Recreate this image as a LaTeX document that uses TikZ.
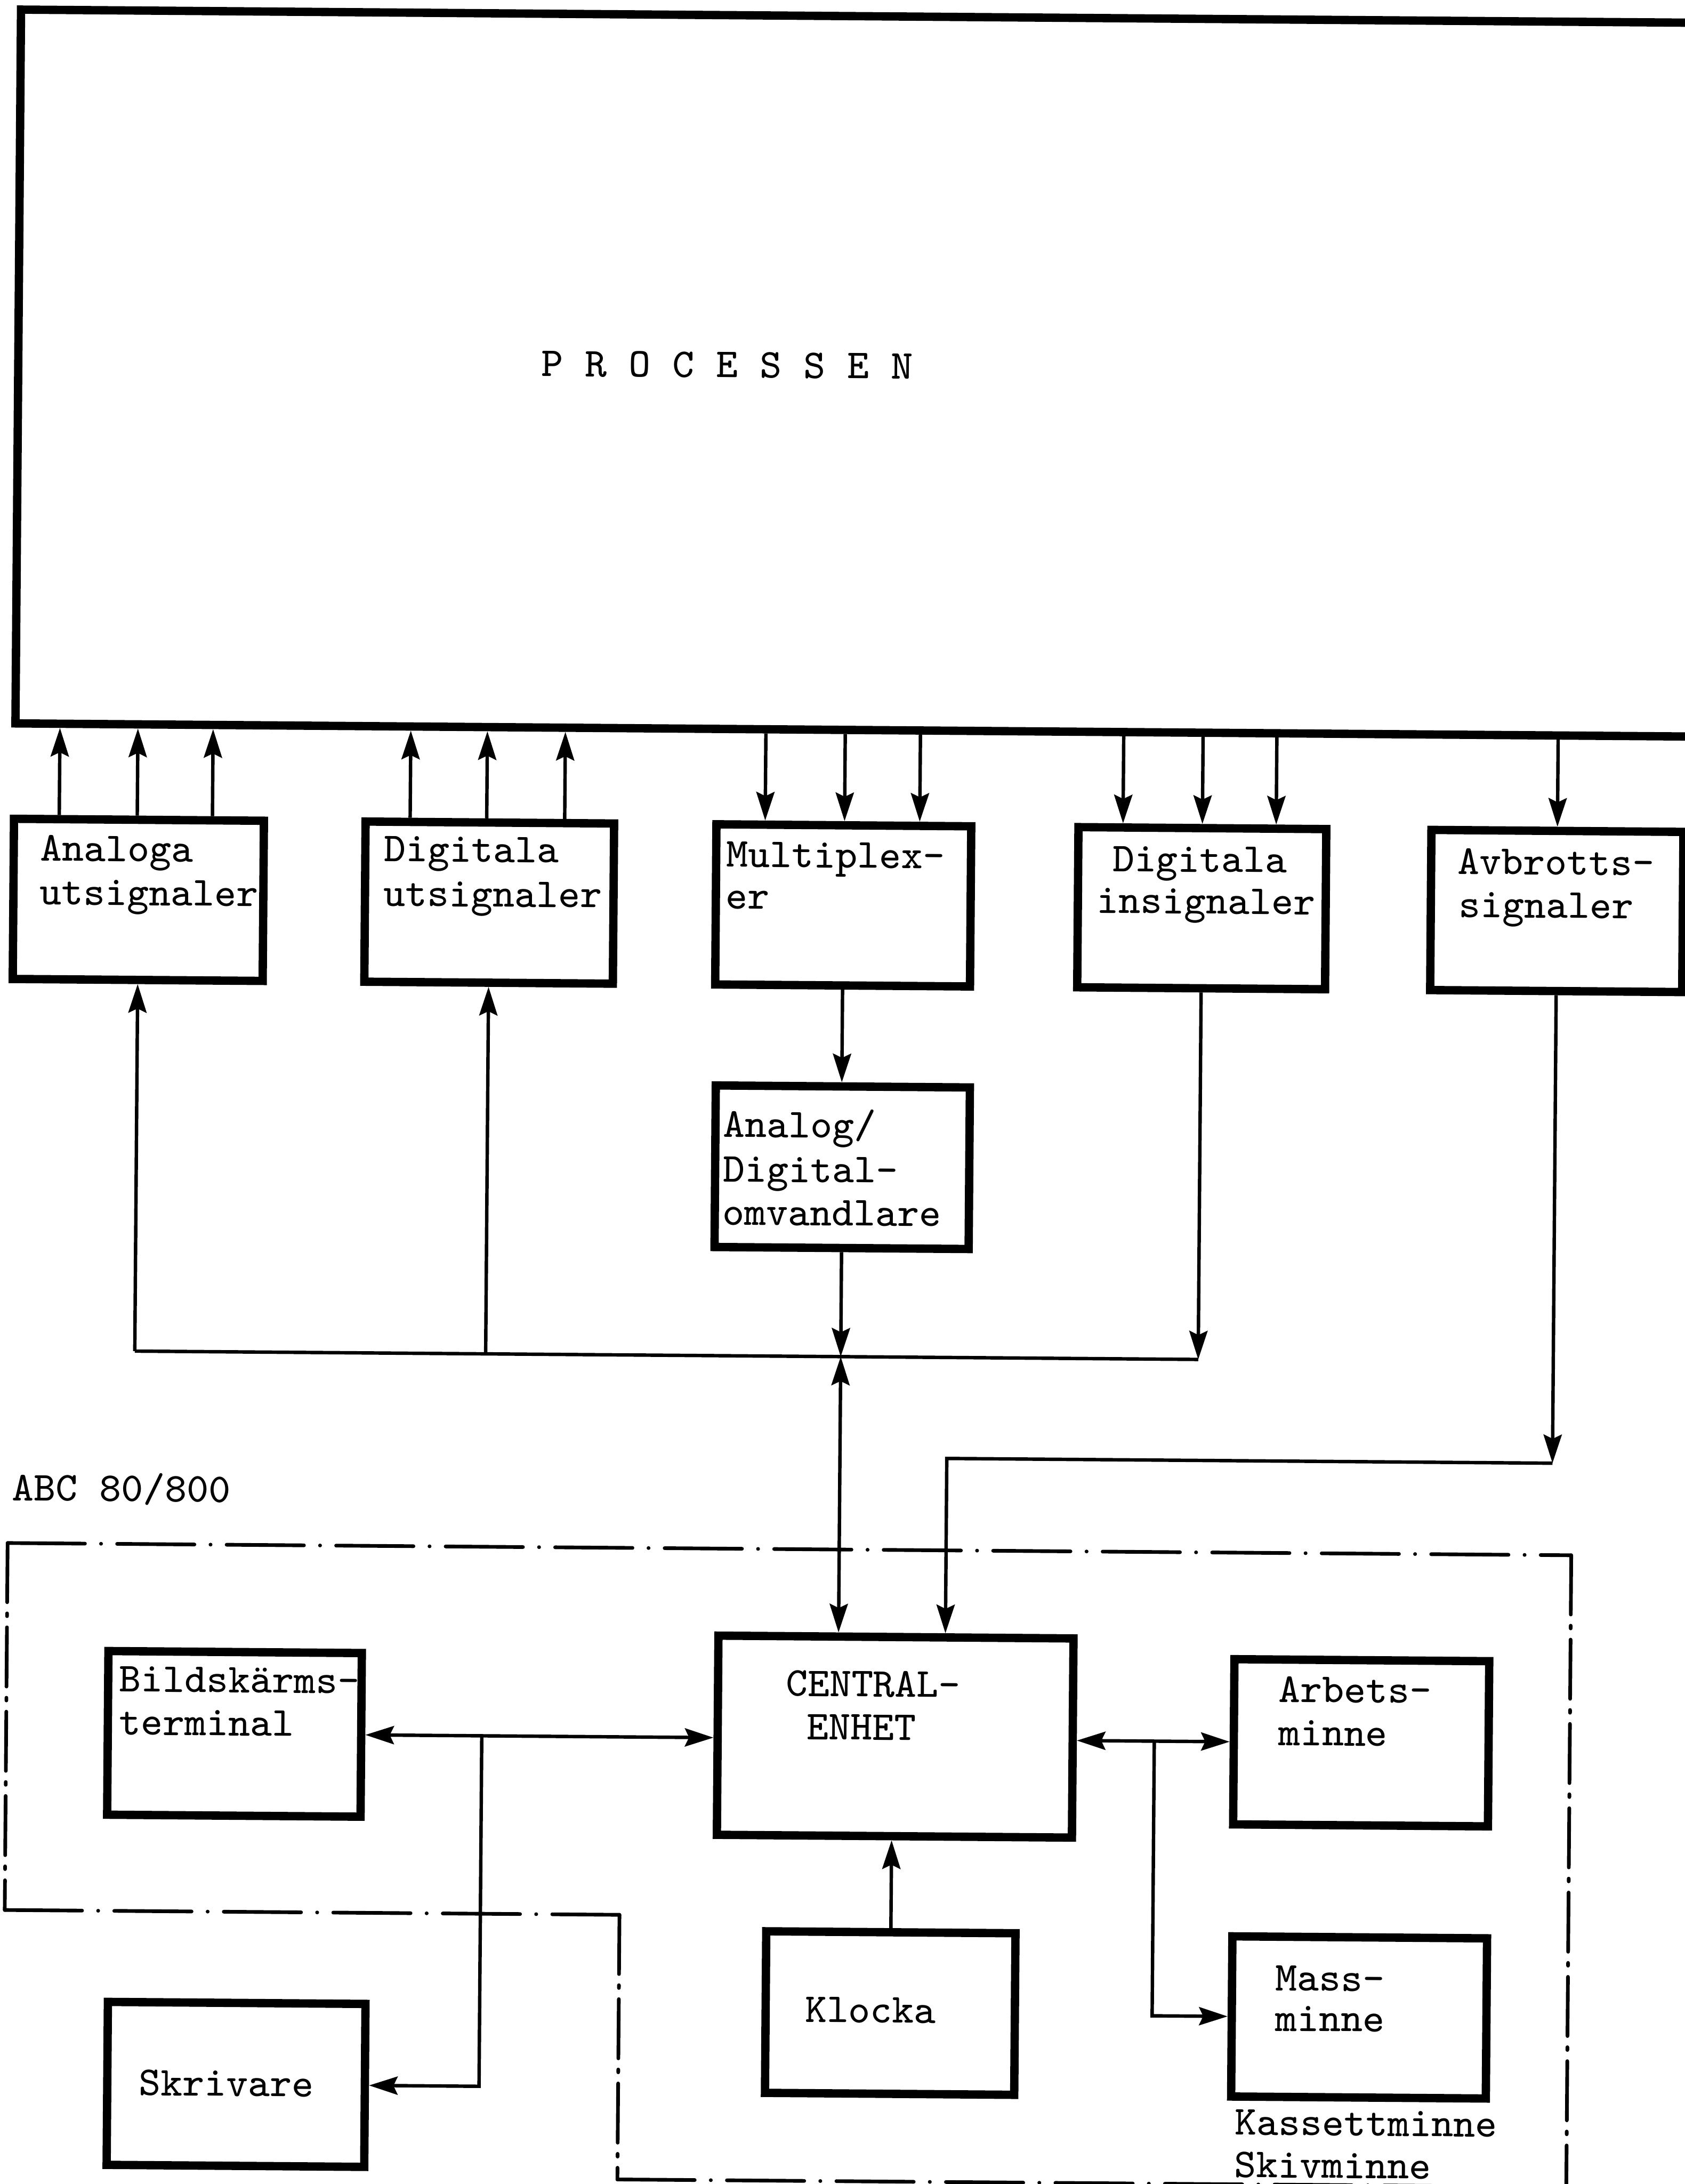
\documentclass[tikz,border=0pt]{standalone}
\usetikzlibrary{arrows.meta}
\newcommand\twfont{\ttfamily\fontsize{8.4pt}{9.1pt}\selectfont}
\newcommand\mkbox[5]{\node[blk, minimum width={(#4-(#2))*0.01cm}, minimum height={(#5-(#3))*0.01cm}] (#1) at ({(#2+#4)/2},{(#3+#5)/2}) {};}
\tikzset{
  blk/.style={draw, line width=1.7pt, rectangle, inner sep=0pt},
  conn/.style={draw, line width=0.7pt},
  >={Stealth[length=2.05mm, width=1.3mm, inset=0.3mm]},
  arr/.style={conn, ->},
  darr/.style={conn, <->},
  lbl/.style={anchor=base west, inner sep=0pt, font=\twfont},
  ddH/.style={line width=0.75pt, line cap=round, dash pattern=on 5.55mm off 1.15mm on 0.01mm off 1.15mm},
  ddV/.style={line width=0.75pt, line cap=round, dash pattern=on 4.25mm off 0.8mm on 0.2mm off 0.8mm},
}
\begin{document}
\begin{tikzpicture}[x=0.01cm, y=-0.01cm]
\useasboundingbox[fill=white] (0,0) rectangle (1210,1568);
\begin{scope}[transform canvas={rotate around={-0.45:(605,784)}}]
% boxes
\mkbox{proc}{9}{11.5}{1260}{524}
\mkbox{ana}{8.5}{592.5}{188}{707.5}
\mkbox{dut}{261}{592.5}{439.5}{707.5}
\mkbox{mux}{513}{592.5}{696}{707.5}
\mkbox{din}{773}{592.5}{951}{707.5}
\mkbox{avb}{1026.5}{592.5}{1207.5}{707.5}
\mkbox{ad}{514}{780}{696.5}{896}
\mkbox{cpu}{519}{1175}{774}{1318}
\mkbox{bild}{81}{1189.5}{263}{1307}
\mkbox{skr}{82.6}{1441.4}{267.6}{1558.4}
\mkbox{arb}{889.7}{1189}{1072.7}{1307.6}
\mkbox{mass}{889.8}{1388}{1072.7}{1503}
\mkbox{klo}{555}{1387}{734}{1503}
% texts
\node[lbl] (tproc) at (384,271.7) {P R O C E S S E N};
\node[lbl] (tana1) at (26.8,622.5) {Analoga};
\node[lbl] (tana2) at (26.8,654) {utsignaler};
\node[lbl] (tdut1) at (273.7,621) {Digitala};
\node[lbl] (tdut2) at (273.7,653) {utsignaler};
\node[lbl] (tmux1) at (519.6,623) {Multiplex-};
\node[lbl] (tmux2) at (519.6,653) {er};
\node[lbl] (tdin1) at (797,624) {Digitala};
\node[lbl] (tdin2) at (786,654) {insignaler};
\node[lbl] (tavb1) at (1045,624) {Avbrotts-};
\node[lbl] (tavb2) at (1046,655) {signaler};
\node[lbl] (tad1) at (519,817) {Analog/};
\node[lbl] (tad2) at (519,849) {Digital-};
\node[lbl] (tad3) at (519,880) {omvandlare};
\node[lbl] (tbild1) at (88.4,1218.6) {Bildskärms-};
\node[lbl] (tbild2) at (88.4,1249.6) {terminal};
\node[lbl] (tskr) at (104.7,1508.4) {Skrivare};
\node[lbl] (tcpu1) at (567,1218) {CENTRAL-};
\node[lbl] (tcpu2) at (582.4,1249) {ENHET};
\node[lbl] (tarb1) at (921,1219.5) {Arbets-};
\node[lbl] (tarb2) at (921,1250.5) {minne};
\node[lbl] (tklo) at (582.6,1452) {Klocka};
\node[lbl] (tmass1) at (920.4,1426.7) {Mass-};
\node[lbl] (tmass2) at (920.4,1455.7) {minne};
\node[lbl] (tkas1) at (892,1530.5) {Kassettminne};
\node[lbl] (tkas2) at (892,1561) {Skivminne};
\node[lbl] (tabc) at (10.3,1082) {ABC 80/800};
% process arrows
\foreach \x in {41,97,151}{\coordinate (c) at (\x,0); \draw[arr] (c |- ana.north) -- (c |- proc.south);}
\foreach \x in {293,348,404}{\coordinate (c) at (\x,0); \draw[arr] (c |- dut.north) -- (c |- proc.south);}
\foreach \x in {548,605,659}{\coordinate (c) at (\x,0); \draw[arr] (c |- proc.south) -- (c |- mux.north);}
\foreach \x in {805,862,915}{\coordinate (c) at (\x,0); \draw[arr] (c |- proc.south) -- (c |- din.north);}
\draw[arr] (avb.north |- proc.south) -- (avb.north);
\draw[arr] (mux.south) -- (mux.south |- ad.north);
% bus
\coordinate (busY) at (0,974);
\draw[conn] (ana.south |- busY) -- (din.south |- busY);
\draw[arr] (ana.south |- busY) -- (ana.south);
\draw[arr] (dut.south |- busY) -- (dut.south);
\draw[arr] (ad.south) -- (ad.south |- busY);
\draw[arr] (din.south) -- (din.south |- busY);
\draw[darr] (ad.south |- busY) -- (ad.south |- cpu.north);
% interrupt line
\coordinate (avY) at (0,1046.5);
\coordinate (cpuIn) at (682,0);
\draw[arr] (avb.south) -- (avb.south |- avY);
\draw[arr] (avb.south |- avY) -| (cpuIn |- cpu.north);
% lower connections
\coordinate (j1x) at (349.6,0);
\coordinate (j2x) at (832.6,0);
\draw[darr] (bild.east) -- (bild.east -| cpu.west);
\draw[arr] (j1x |- bild.east) |- (skr.east);
\draw[darr] (cpu.east |- arb.west) -- (arb.west);
\draw[arr] (j2x |- arb.west) |- (mass.west);
\draw[arr] (klo.north) -- (klo.north |- cpu.south);
% boundary
\coordinate (d1) at (8,1112.5);
\coordinate (d2) at (1131,1112.5);
\coordinate (d3) at (1131,1600);
\coordinate (d3b) at (1131,1566);
\coordinate (d4) at (449.5,1566);
\coordinate (d5) at (449.5,1376);
\coordinate (d6) at (8,1376);
\draw[ddH] (d1) -- (d2);
\draw[ddV] (d2) -- (d3);
\draw[ddH] (d4) -- (d3b);
\draw[ddV] (d5) -- (d4);
\draw[ddH] (d6) -- (d5);
\draw[ddV] (d1) -- (d6);
\end{scope}
\end{tikzpicture}
\end{document}
